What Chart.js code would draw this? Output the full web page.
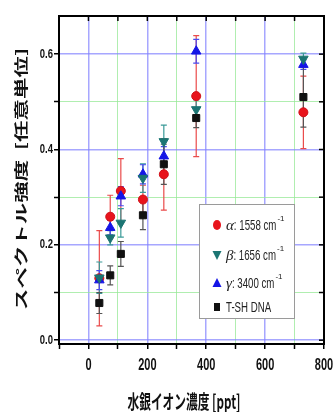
<!DOCTYPE html>
<html>
<head>
<meta charset="utf-8">
<script src="https://cdn.jsdelivr.net/npm/chart.js@4.4.1/dist/chart.umd.min.js"></script>
<style>
  html, body { margin: 0; padding: 0; background: #fff; }
  canvas { display: block; }
</style>
</head>
<body>
<canvas id="myChart" width="333" height="412"></canvas>
<script>
// mercury ion concentration [ppt]
const concentrations = [37, 74, 110, 185, 256, 366, 730];

// spectral intensity per band + error
const alpha1558 = [0.13, 0.259, 0.313, 0.295, 0.348, 0.512, 0.478];
const alpha1558Err = [0.1, 0.045, 0.068, 0.03, 0.075, 0.127, 0.076];
const beta1656 = [0.131, 0.215, 0.246, 0.34, 0.417, 0.484, 0.59];
const beta1656Err = [0.033, 0.015, 0.03, 0.03, 0.034, 0.02, 0.012];
const gamma3400 = [0.126, 0.236, 0.302, 0.348, 0.386, 0.606, 0.578];
const gamma3400Err = [0.02, 0.015, 0.02, 0.02, 0.02, 0.025, 0.01];
const tshDna = [0.078, 0.136, 0.181, 0.262, 0.369, 0.466, 0.51];
const tshDnaErr = [0.022, 0.02, 0.026, 0.03, 0.042, 0.02, 0.063];

const xTickValues = [-100, 0, 100, 200, 300, 400, 500, 600, 700, 800];
const yTickValues = [0, 0.1, 0.2, 0.3, 0.4, 0.5, 0.6];

const xTitle = "水銀イオン濃度 [ppt]";
const yTitle = "スペクトル強度  [任意単位]";

const SANS = '"Liberation Sans", Arial, sans-serif';
const CJK = '"Noto Sans CJK JP", "Noto Sans CJK SC", sans-serif';
const BLUE_GRID = "rgba(130, 130, 255, 0.7)";
const GREEN_GRID = "rgba(150, 232, 150, 0.75)";

const toPoints = (vals) => concentrations.map((x, i) => ({ x: x, y: vals[i] }));

const legendRows = [
  { greek: "α", text: ": 1558 cm", sup: "-1", color: "#e8141c", shape: "circle" },
  { greek: "β", text: ": 1656 cm", sup: "-1", color: "#1b7573", shape: "down" },
  { greek: "γ", text: ": 3400 cm", sup: "-1", color: "#1515e6", shape: "up" },
  { greek: "", text: "T-SH DNA", sup: "", color: "#111111", shape: "square" },
];

const isMajor = (v, step) => Math.round(v / step) % 2 === 0;

// the source picture is squashed sideways, so text is drawn tall and narrow
function stretchedText(ctx, txt, x, y, sx, sy) {
  ctx.save();
  ctx.translate(x, y);
  ctx.scale(sx, sy);
  ctx.fillText(txt, 0, 0);
  ctx.restore();
}

// error bars, drawn under the markers
const errorBars = {
  id: "errorBars",
  beforeDatasetsDraw(chart) {
    const ctx = chart.ctx;
    const xs = chart.scales.x;
    const ys = chart.scales.y;
    ctx.save();
    chart.data.datasets.forEach((ds) => {
      ctx.strokeStyle = ds.errColor;
      ctx.lineWidth = 1.2;
      ds.data.forEach((p, i) => {
        const e = ds.errors[i];
        const px = xs.getPixelForValue(p.x);
        const top = ys.getPixelForValue(p.y + e);
        const bot = ys.getPixelForValue(p.y - e);
        ctx.beginPath();
        ctx.moveTo(px, top);
        ctx.lineTo(px, bot);
        ctx.moveTo(px - 3, top);
        ctx.lineTo(px + 3, top);
        ctx.moveTo(px - 3, bot);
        ctx.lineTo(px + 3, bot);
        ctx.stroke();
      });
    });
    ctx.restore();
  },
};

// frame, inward ticks on top/right, tick labels, titles, legend box
const decorations = {
  id: "decorations",
  afterDraw(chart) {
    const ctx = chart.ctx;
    const a = chart.chartArea;
    const xs = chart.scales.x;
    const ys = chart.scales.y;
    ctx.save();
    ctx.strokeStyle = "#000";
    ctx.lineWidth = 1.5;
    xs.ticks.forEach((t) => {
      const px = xs.getPixelForValue(t.value);
      ctx.beginPath();
      ctx.moveTo(px, a.top);
      ctx.lineTo(px, a.top + 5);
      ctx.stroke();
    });
    ys.ticks.forEach((t) => {
      const py = ys.getPixelForValue(t.value);
      ctx.beginPath();
      ctx.moveTo(a.right - 5, py);
      ctx.lineTo(a.right, py);
      ctx.stroke();
    });
    ctx.lineWidth = 2;
    ctx.strokeRect(a.left, a.top, a.right - a.left, a.bottom - a.top);

    // tick labels
    ctx.fillStyle = "#111";
    ctx.font = "bold 11px " + SANS;
    ctx.textAlign = "center";
    ctx.textBaseline = "middle";
    xs.ticks.forEach((t) => {
      if (t.value < 0 || !isMajor(t.value, 100)) return;
      stretchedText(ctx, String(t.value), xs.getPixelForValue(t.value), 365, 1, 1.5);
    });
    ctx.font = "bold 10px " + SANS;
    ctx.textAlign = "right";
    ys.ticks.forEach((t) => {
      if (!isMajor(t.value, 0.1)) return;
      stretchedText(ctx, t.value.toFixed(1), 53, ys.getPixelForValue(t.value), 0.95, 1.3);
    });

    // x title
    ctx.fillStyle = "#111";
    ctx.font = "bold 14px " + CJK;
    ctx.textAlign = "center";
    let w = ctx.measureText(xTitle).width;
    stretchedText(ctx, xTitle, 184, 402, 113 / w, 1.4);

    // y title (stretched along its run)
    w = ctx.measureText(yTitle).width;
    ctx.save();
    ctx.translate(21, 179);
    ctx.rotate(-Math.PI / 2);
    ctx.scale(262 / w, 0.95);
    ctx.fillText(yTitle, 0, 0);
    ctx.restore();

    // legend
    const bx = 199, by = 204, bw = 95, bh = 114;
    ctx.fillStyle = "#fff";
    ctx.fillRect(bx, by, bw, bh);
    ctx.strokeStyle = "#9a9a9a";
    ctx.lineWidth = 1;
    ctx.strokeRect(bx + 0.5, by + 0.5, bw, bh);
    const rowY = [225, 255, 283, 307];
    legendRows.forEach((r, i) => {
      const cy = rowY[i];
      const mx = 217;
      ctx.fillStyle = r.color;
      ctx.beginPath();
      if (r.shape === "circle") {
        ctx.ellipse(mx, cy, 4, 5, 0, 0, Math.PI * 2);
      } else if (r.shape === "down") {
        ctx.moveTo(mx - 4.5, cy - 4);
        ctx.lineTo(mx + 4.5, cy - 4);
        ctx.lineTo(mx, cy + 5);
        ctx.closePath();
      } else if (r.shape === "up") {
        ctx.moveTo(mx - 4.5, cy + 4);
        ctx.lineTo(mx + 4.5, cy + 4);
        ctx.lineTo(mx, cy - 5);
        ctx.closePath();
      } else {
        ctx.rect(mx - 3, cy - 4, 6, 8);
      }
      ctx.fill();

      ctx.fillStyle = "#222";
      ctx.textAlign = "left";
      ctx.textBaseline = "middle";
      let tx = 226;
      if (r.greek) {
        ctx.font = "italic 15px 'Liberation Serif', serif";
        ctx.fillText(r.greek, tx, cy + 1);
        tx += ctx.measureText(r.greek).width;
      }
      ctx.font = "11px " + SANS;
      const sx = 0.88;
      stretchedText(ctx, r.text, tx, cy + 1, sx, 1.35);
      tx += ctx.measureText(r.text).width * sx;
      if (r.sup) {
        ctx.font = "8px " + SANS;
        ctx.fillText(r.sup, tx + 1, cy - 6);
      }
    });
    ctx.restore();
  },
};

const ctx = document.getElementById("myChart").getContext("2d");
const myChart = new Chart(ctx, {
  type: "scatter",
  data: {
    datasets: [
      {
        label: "α: 1558 cm-1",
        data: toPoints(alpha1558),
        errors: alpha1558Err,
        errColor: "#ea4b4b",
        pointStyle: "circle",
        pointRadius: 4.5,
        backgroundColor: "#e8141c",
        borderColor: "#d01018",
        borderWidth: 1,
        order: 4,
      },
      {
        label: "β: 1656 cm-1",
        data: toPoints(beta1656),
        errors: beta1656Err,
        errColor: "#3a9a98",
        pointStyle: "triangle",
        rotation: 180,
        pointRadius: 5.5,
        backgroundColor: "#1b7573",
        borderColor: "#1b7573",
        borderWidth: 1,
        order: 2,
      },
      {
        label: "γ: 3400 cm-1",
        data: toPoints(gamma3400),
        errors: gamma3400Err,
        errColor: "#4a4af0",
        pointStyle: "triangle",
        pointRadius: 5.5,
        backgroundColor: "#1515e6",
        borderColor: "#1515e6",
        borderWidth: 1,
        order: 3,
      },
      {
        label: "T-SH DNA",
        data: toPoints(tshDna),
        errors: tshDnaErr,
        errColor: "#555555",
        pointStyle: "rect",
        pointRadius: 5,
        backgroundColor: "#111111",
        borderColor: "#111111",
        borderWidth: 1,
        order: 1,
      },
    ],
  },
  options: {
    responsive: false,
    animation: false,
    devicePixelRatio: 1,
    layout: { padding: { top: 16, right: 9, left: 0, bottom: 0 } },
    plugins: {
      legend: { display: false },
      tooltip: { enabled: false },
    },
    scales: {
      x: {
        type: "linear",
        min: -100,
        max: 800,
        afterBuildTicks: (s) => {
          s.ticks = xTickValues.map((v) => ({ value: v }));
        },
        afterFit: (s) => {
          s.height = 68;
        },
        ticks: { display: false },
        grid: {
          color: (c) => (isMajor(c.tick.value, 100) ? BLUE_GRID : GREEN_GRID),
          lineWidth: (c) => (isMajor(c.tick.value, 100) ? 1.5 : 1),
          tickColor: "#000",
          tickLength: 5,
          tickWidth: 1.5,
        },
        border: { display: false },
      },
      y: {
        type: "linear",
        min: -0.008,
        max: 0.68,
        afterBuildTicks: (s) => {
          s.ticks = yTickValues.map((v) => ({ value: v }));
        },
        afterFit: (s) => {
          s.width = 59;
        },
        ticks: { display: false },
        grid: {
          color: (c) => (isMajor(c.tick.value, 0.1) ? BLUE_GRID : GREEN_GRID),
          lineWidth: (c) => (isMajor(c.tick.value, 0.1) ? 1.5 : 1),
          tickColor: "#000",
          tickLength: 5,
          tickWidth: 1.5,
        },
        border: { display: false },
      },
    },
  },
  plugins: [errorBars, decorations],
});
</script>
</body>
</html>
